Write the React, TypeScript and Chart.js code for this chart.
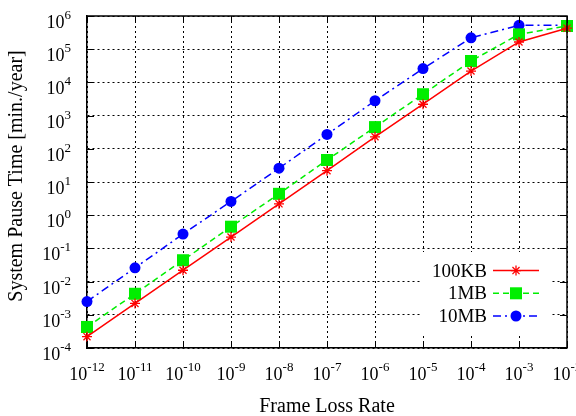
import React, { useEffect, useRef } from "react";
import { Chart, registerables } from "chart.js";

Chart.register(...registerables);

const frameLossRates = [1e-12, 1e-11, 1e-10, 1e-9, 1e-8, 1e-7, 1e-6, 1e-5, 1e-4, 1e-3, 1e-2];
const pause100KB = [2.2e-4, 2.2e-3, 2.2e-2, 0.22, 2.2, 22, 230, 2.2e3, 2.2e4, 1.65e5, 4.3e5];
const pause1MB = [4.3e-4, 4.3e-3, 4.4e-2, 0.45, 4.4, 46, 450, 4.4e3, 4.4e4, 2.8e5, 5.0e5];
const pause10MB = [2.5e-3, 2.6e-2, 0.27, 2.6, 26, 270, 2.8e3, 2.6e4, 2.2e5, 5.25e5, 5.25e5];
const seriesLabels = ["100KB", "1MB", "10MB"];
const xTickExponents = [-12, -11, -10, -9, -8, -7, -6, -5, -4, -3, -2];
const yTickExponents = [-4, -3, -2, -1, 0, 1, 2, 3, 4, 5, 6];
const xTitle = "Frame Loss Rate";
const yTitle = "System Pause Time [min./year]";

const FONT = '"Liberation Serif", "Times New Roman", serif';

const seriesStyles = [
  { color: "#ff0000", dash: [] as number[], pointStyle: "star", radius: 5, fill: "#ff0000", pbw: 1.3 },
  { color: "#00ee00", dash: [6, 4], pointStyle: "rect", radius: 8.5, fill: "#00ee00", pbw: 0 },
  { color: "#0000ff", dash: [8, 4, 2, 4], pointStyle: "circle", radius: 5.5, fill: "#0000ff", pbw: 0 },
];
const seriesValues = [pause100KB, pause1MB, pause10MB];

function drawPow(ctx: CanvasRenderingContext2D, exp: number, x: number, y: number, align: "center" | "right") {
  const base = "10";
  const sup = String(exp);
  ctx.font = `18px ${FONT}`;
  const wb = ctx.measureText(base).width;
  ctx.font = `13px ${FONT}`;
  const ws = ctx.measureText(sup).width;
  const total = wb + ws;
  const start = align === "center" ? x - total / 2 : x - total;
  ctx.textAlign = "left";
  ctx.textBaseline = "alphabetic";
  ctx.font = `18px ${FONT}`;
  ctx.fillText(base, start, y);
  ctx.font = `13px ${FONT}`;
  ctx.fillText(sup, start + wb, y - 9);
}

function drawMarker(ctx: CanvasRenderingContext2D, style: string, x: number, y: number, r: number, color: string) {
  ctx.save();
  ctx.fillStyle = color;
  ctx.strokeStyle = color;
  ctx.setLineDash([]);
  if (style === "star") {
    ctx.lineWidth = 1.3;
    ctx.beginPath();
    for (let k = 0; k < 4; k++) {
      const a = (k * Math.PI) / 4;
      ctx.moveTo(x - Math.cos(a) * r, y - Math.sin(a) * r);
      ctx.lineTo(x + Math.cos(a) * r, y + Math.sin(a) * r);
    }
    ctx.stroke();
  } else if (style === "rect") {
    const s = r * Math.SQRT1_2;
    ctx.fillRect(x - s, y - s, 2 * s, 2 * s);
  } else {
    ctx.beginPath();
    ctx.arc(x, y, r, 0, Math.PI * 2);
    ctx.fill();
  }
  ctx.restore();
}

const decorPlugin = {
  id: "decor",
  afterDraw(chart: any) {
    const ctx: CanvasRenderingContext2D = chart.ctx;
    const { left, right, top, bottom } = chart.chartArea;
    const xs = chart.scales.x;
    const ys = chart.scales.y;
    ctx.save();
    ctx.strokeStyle = "#000";
    ctx.lineWidth = 1.5;
    ctx.setLineDash([]);
    ctx.beginPath();
    ctx.moveTo(left, top);
    ctx.lineTo(right, top);
    ctx.lineTo(right, bottom);
    ctx.stroke();
    ctx.lineWidth = 1;
    ctx.beginPath();
    xTickExponents.forEach((e) => {
      const px = Math.round(xs.getPixelForValue(Math.pow(10, e))) + 0.5;
      ctx.moveTo(px, bottom);
      ctx.lineTo(px, bottom - 7);
      ctx.moveTo(px, top);
      ctx.lineTo(px, top + 7);
    });
    yTickExponents.forEach((e) => {
      const py = Math.round(ys.getPixelForValue(Math.pow(10, e))) + 0.5;
      ctx.moveTo(left, py);
      ctx.lineTo(left + 7, py);
      ctx.moveTo(right, py);
      ctx.lineTo(right - 7, py);
    });
    ctx.stroke();

    ctx.fillStyle = "#000";
    xTickExponents.forEach((e) => {
      const px = xs.getPixelForValue(Math.pow(10, e));
      drawPow(ctx, e, px, bottom + 32, "center");
    });
    yTickExponents.forEach((e) => {
      const py = ys.getPixelForValue(Math.pow(10, e));
      drawPow(ctx, e, left - 16, py + 12, "right");
    });

    ctx.font = `20px ${FONT}`;
    ctx.textAlign = "center";
    ctx.textBaseline = "middle";
    ctx.fillText(xTitle, (left + right) / 2, bottom + 59);
    ctx.save();
    ctx.translate(17, (top + bottom) / 2 - 6);
    ctx.rotate(-Math.PI / 2);
    ctx.fillText(yTitle, 0, 0);
    ctx.restore();

    ctx.fillStyle = "#fff";
    ctx.fillRect(right - 145, bottom - 96, 128, 81);
    chart.data.datasets.forEach((ds: any, i: number) => {
      const st = seriesStyles[i];
      const y = bottom - 32 - (chart.data.datasets.length - 1 - i) * 22.7;
      ctx.fillStyle = "#000";
      ctx.font = `19px ${FONT}`;
      ctx.textAlign = "right";
      ctx.textBaseline = "middle";
      ctx.fillText(ds.label, right - 80, y + 1);
      ctx.strokeStyle = st.color;
      ctx.lineWidth = 1.5;
      ctx.setLineDash(st.dash);
      ctx.beginPath();
      ctx.moveTo(right - 74, y);
      ctx.lineTo(right - 28, y);
      ctx.stroke();
      drawMarker(ctx, st.pointStyle, right - 51, y, st.radius, st.color);
    });
    ctx.restore();
  },
};

export default function App() {
  const ref = useRef<HTMLCanvasElement>(null);
  useEffect(() => {
    const canvas = ref.current!;
    const chart = new Chart(canvas, {
      type: "line",
      data: {
        datasets: seriesLabels.map((label, i) => ({
          label,
          data: frameLossRates.map((x, j) => ({ x, y: seriesValues[i][j] })),
          borderColor: seriesStyles[i].color,
          backgroundColor: seriesStyles[i].fill,
          borderWidth: 1.5,
          borderDash: seriesStyles[i].dash,
          pointStyle: seriesStyles[i].pointStyle as any,
          pointRadius: seriesStyles[i].radius,
          pointBorderColor: seriesStyles[i].color,
          pointBackgroundColor: seriesStyles[i].fill,
          pointBorderWidth: seriesStyles[i].pbw,
          tension: 0,
          clip: false as any,
        })),
      },
      options: {
        responsive: false,
        animation: false,
        maintainAspectRatio: false,
        layout: { padding: { left: 87, top: 16, right: 9, bottom: 68 } },
        plugins: { legend: { display: false }, tooltip: { enabled: false } },
        scales: {
          x: {
            type: "logarithmic",
            min: 1e-12,
            max: 1e-2,
            afterBuildTicks: (s: any) => {
              s.ticks = xTickExponents.map((e) => ({ value: Math.pow(10, e) }));
            },
            afterFit: (s: any) => {
              s.height = 0;
            },
            ticks: { display: false },
            grid: { color: "#000", lineWidth: 1, drawTicks: false },
            border: { display: true, color: "#000", width: 1.5, dash: [2, 3] },
          },
          y: {
            type: "logarithmic",
            min: 1e-4,
            max: 1e6,
            afterBuildTicks: (s: any) => {
              s.ticks = yTickExponents.map((e) => ({ value: Math.pow(10, e) }));
            },
            afterFit: (s: any) => {
              s.width = 0;
            },
            ticks: { display: false },
            grid: { color: "#000", lineWidth: 1, drawTicks: false },
            border: { display: true, color: "#000", width: 1.5, dash: [2, 3] },
          },
        },
      },
      plugins: [decorPlugin],
    });
    return () => chart.destroy();
  }, []);
  return (
    <div style={{ position: "fixed", left: 0, top: 0, width: 576, height: 416, background: "#fff" }}>
      <canvas ref={ref} width={576} height={416} style={{ display: "block", width: 576, height: 416 }} />
    </div>
  );
}
